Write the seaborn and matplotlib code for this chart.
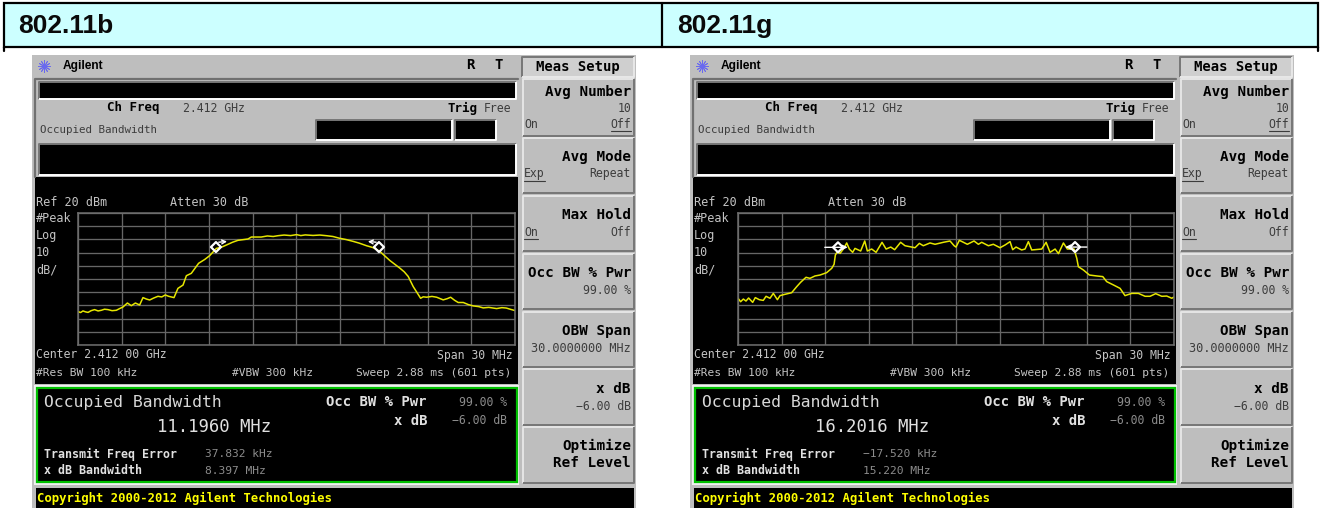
import matplotlib
matplotlib.use("Agg")
import matplotlib.pyplot as plt
import matplotlib.transforms as mtrans
import seaborn as sns
from matplotlib.patches import Rectangle

sns.set_style("white")
plt.rcParams['font.family'] = ['DejaVu Sans Mono', 'DejaVu Sans']

# Traces (MHz from centre, dBm)
freq_b = [-15.0, -14.82, -14.66, -14.48, -14.31, -14.10, -13.86, -13.62, -13.40, -13.18,
          -12.94, -12.66, -12.37, -12.14, -11.91, -11.61, -11.34, -11.06, -10.77, -10.54,
          -10.30, -10.08, -9.80, -9.51, -9.25, -9.01, -8.78, -8.41, -8.14, -7.79,
          -7.56, -7.22, -6.72, -6.30, -5.96, -5.50, -5.15, -4.82, -4.40, -4.02,
          -3.33, -3.10, -2.42, -2.00, -1.60, -1.27, -0.85, -0.40, 0.0, 0.30,
          0.60, 1.14, 1.60, 2.06, 2.50, 2.98, 3.40, 3.89, 4.30, 4.81,
          5.25, 5.72, 6.41, 7.10, 7.40, 7.67, 8.01, 8.52, 8.70, 8.93,
          9.30, 9.62, 10.07, 10.35, 10.58, 10.85, 11.10, 11.45, 11.80, 12.14,
          12.50, 12.82, 13.20, 13.74, 14.10, 14.40, 14.70, 15.0]
power_b = [-54.7, -55.4, -54.2, -54.9, -55.3, -54.0, -53.2, -54.2, -53.7, -52.9,
           -53.2, -54.0, -53.7, -52.4, -51.2, -48.2, -50.2, -48.2, -49.7, -44.1,
           -45.2, -45.9, -44.4, -43.1, -43.6, -42.1, -43.1, -44.1, -37.1, -34.6,
           -27.5, -25.7, -18.1, -15.2, -12.3, -6.8, -5.9, -4.3, -2.2, -0.7,
           0.3, 1.8, 1.8, 2.6, 2.2, 2.8, 3.3, 2.9, 3.6, 2.9,
           3.4, 3.0, 3.3, 2.8, 2.2, 0.8, -0.1, -1.5, -2.8, -4.8,
           -6.2, -9.1, -16.0, -21.8, -24.6, -28.1, -35.7, -44.6, -43.5, -43.8,
           -43.2, -43.8, -45.8, -44.9, -43.8, -46.1, -47.8, -47.8, -49.4, -50.4,
           -50.9, -51.9, -51.5, -52.4, -51.7, -52.0, -53.0, -53.9]

freq_g = [-15.0, -14.82, -14.63, -14.45, -14.27, -13.99, -13.81, -13.53, -13.26, -13.07,
          -12.80, -12.57, -12.29, -12.11, -11.77, -11.31, -10.96, -10.69, -10.32, -10.05,
          -9.70, -9.36, -8.90, -8.55, -8.39, -8.30, -8.16, -7.98, -7.75, -7.52,
          -7.34, -7.11, -6.95, -6.56, -6.28, -6.10, -5.80, -5.50, -5.09, -4.81,
          -4.49, -4.22, -3.81, -3.51, -3.05, -2.82, -2.52, -2.25, -1.79, -1.44,
          -0.87, -0.41, -0.13, 0.0, 0.23, 0.51, 0.78, 1.24, 1.54, 1.77,
          2.23, 2.57, 3.03, 3.38, 3.72, 3.90, 4.13, 4.52, 4.75, 4.98,
          5.21, 5.90, 6.20, 6.47, 6.82, 7.05, 7.39, 7.66, 8.12, 8.31,
          8.42, 8.77, 9.18, 9.68, 10.10, 10.37, 10.83, 11.29, 11.63, 12.09,
          12.55, 13.01, 13.35, 13.74, 14.16, 14.50, 14.85, 15.0]
power_g = [-44.6, -47.2, -45.2, -46.7, -44.4, -47.7, -44.1, -45.7, -46.2, -43.1,
           -44.6, -40.9, -45.7, -42.6, -41.6, -40.4, -35.8, -32.5, -28.7, -29.5,
           -27.7, -27.0, -25.2, -21.9, -18.9, -11.8, -9.3, -10.6, -7.3, -2.7,
           -7.3, -9.8, -6.8, -8.8, -1.2, -8.8, -7.3, -9.8, -2.2, -7.3,
           -5.8, -7.8, -2.2, -4.8, -5.8, -6.3, -3.0, -4.8, -2.7, -3.7,
           -2.2, -1.2, -4.8, -5.8, -0.7, -2.2, -3.7, -1.2, -3.7, -2.2,
           -4.8, -3.7, -6.3, -4.2, -1.7, -7.8, -5.8, -8.0, -7.3, -1.7,
           -8.0, -7.3, -2.2, -9.8, -7.3, -10.8, -2.7, -7.3, -7.3, -14.3,
           -20.7, -23.2, -27.0, -27.7, -28.2, -32.0, -34.5, -37.1, -42.6, -40.9,
           -40.9, -43.1, -43.1, -41.1, -43.1, -42.9, -44.6, -43.6]

marker_freq_b = [-5.53, 5.66]
marker_power_b = [-5.8, -5.8]
marker_freq_g = [-8.12, 8.19]
marker_power_g = [-6.0, -5.8]

x_ticks = [-15, -12, -9, -6, -3, 0, 3, 6, 9, 12, 15]
y_ticks = [-80, -70, -60, -50, -40, -30, -20, -10, 0, 10, 20]

standards = ["802.11b", "802.11g"]
occupied_bw = ["11.1960 MHz", "16.2016 MHz"]
freq_error = ["37.832 kHz", "−17.520 kHz"]
xdb_bw = ["8.397 MHz", "15.220 MHz"]

W, H = 1321, 508
GREY = "#bebebe"
fig = plt.figure(figsize=(W / 100, H / 100), dpi=100, facecolor="white")
bg = fig.add_axes([0, 0, 1, 1], zorder=0)
bg.set_xlim(0, W)
bg.set_ylim(H, 0)
bg.axis("off")


def box(x0, y0, x1, y1, face, edge=None, lw=0):
    bg.add_patch(Rectangle((x0, y0), x1 - x0, y1 - y0, facecolor=face,
                           edgecolor=edge if edge else "none", linewidth=lw))


def bevel(x0, y0, x1, y1, face=GREY, light="#e6e6e6", dark="#777777"):
    box(x0, y0, x1, y1, face)
    bg.plot([x0, x0, x1], [y1, y0, y0], color=light, lw=1.4, solid_capstyle="butt")
    bg.plot([x0, x1, x1], [y1, y1, y0], color=dark, lw=1.4, solid_capstyle="butt")


def label(x, y, s, size=8.3, color="#3c3c3c", weight="normal", ha="left", **kw):
    bg.text(x, y, s, fontsize=size, color=color, fontweight=weight, ha=ha, va="center", **kw)


# Header strip
box(4, 3, 1318, 47, "#ccffff", "black", 1.6)
bg.plot([662, 662], [3, 47], color="black", lw=1.6)
bg.plot([4, 4], [47, 51], color="black", lw=1.6)
bg.plot([1318, 1318], [47, 51], color="black", lw=1.6)
for hx, name in zip([18, 677], standards):
    label(hx, 26, name, size=19, color="#0a0a0a", weight="bold", family="Liberation Sans")


def softkeys(ox):
    rx = ox + 631
    bevel(ox + 522, 57, ox + 634, 77, "#cfcfcf", "#777777", "#e8e8e8")
    label(ox + 578, 67, "Meas Setup", size=10, color="black", weight="bold", ha="center")
    tops = [(79, 136), (138, 193), (196, 251), (254, 309), (312, 367), (369, 425), (427, 483)]
    for y0, y1 in tops:
        bevel(ox + 523, y0, ox + 634, y1)
    big = dict(size=10.3, color="black", weight="bold", ha="right")
    label(rx, 92, "Avg Number", **big)
    label(rx, 108, "10", ha="right")
    label(ox + 524, 124, "On")
    label(rx, 124, "Off", ha="right")
    bg.plot([rx - 20, rx], [130.5, 130.5], color="#3c3c3c", lw=0.8)
    label(rx, 157, "Avg Mode", **big)
    label(ox + 524, 174, "Exp")
    bg.plot([ox + 524, ox + 545], [180.5, 180.5], color="#3c3c3c", lw=0.8)
    label(rx, 174, "Repeat", ha="right")
    label(rx, 215, "Max Hold", **big)
    label(ox + 524, 233, "On")
    bg.plot([ox + 524, ox + 538], [239, 239], color="#3c3c3c", lw=0.8)
    label(rx, 233, "Off", ha="right")
    label(rx, 273, "Occ BW % Pwr", **big)
    label(rx, 290, "99.00 %", ha="right")
    label(rx, 331, "OBW Span", **big)
    label(rx, 348, "30.0000000 MHz", size=8.6, ha="right")
    label(rx, 389, "x dB", **big)
    label(rx, 406, "−6.00 dB", ha="right")
    label(rx, 446, "Optimize", **big)
    label(rx, 463, "Ref Level", **big)


def screen(ox, i):
    box(ox + 32, 55, ox + 636, H, GREY)
    bg.scatter([ox + 44], [66], marker=(12, 2, 0), s=70, color="#6a6aee", linewidths=0.6)
    label(ox + 63, 66, "Agilent", size=8.6, color="black", weight="bold", family="Liberation Sans")
    label(ox + 470, 65, "R", size=10, color="black", weight="bold", ha="center")
    label(ox + 499, 65, "T", size=10, color="black", weight="bold", ha="center")

    # status boxes
    bg.plot([ox + 35, ox + 35, ox + 518], [177, 79, 79], color="#707070", lw=1.6)
    bevel(ox + 39, 82, ox + 516, 99, "black", "#777777", "white")
    label(ox + 107, 108, "Ch Freq", size=9, color="black", weight="bold")
    label(ox + 183, 108, "2.412 GHz")
    label(ox + 448, 108, "Trig", size=9, color="black", weight="bold")
    label(ox + 484, 108, "Free", size=8.3)
    label(ox + 40, 130, "Occupied Bandwidth", size=7.8)
    bevel(ox + 316, 120, ox + 452, 140, "black", "#777777", "white")
    bevel(ox + 455, 120, ox + 496, 140, "black", "#777777", "white")
    bevel(ox + 39, 144, ox + 516, 175, "black", "#777777", "white")

    # graticule block
    box(ox + 35, 177, ox + 518, 384, "black")
    light = "#c4c4c4"
    label(ox + 36, 203, "Ref 20 dBm", size=8.5, color=light)
    label(ox + 170, 203, "Atten 30 dB", size=8.5, color=light)
    for ly, s in zip([218, 235, 252, 270], ["#Peak", "Log", "10", "dB/"]):
        label(ox + 36, ly, s, size=8.5, color=light)
    label(ox + 36, 355, "Center 2.412 00 GHz", color=light)
    label(ox + 513, 355, "Span 30 MHz", color=light, ha="right")
    label(ox + 36, 373, "#Res BW 100 kHz", size=8.1, color=light)
    label(ox + 232, 373, "#VBW 300 kHz", size=8.1, color=light)
    label(ox + 511, 373, "Sweep 2.88 ms (601 pts)", size=8.1, color=light, ha="right")

    # result block
    box(ox + 34, 385, ox + 519, 485, "#f0f0f0")
    box(ox + 36.5, 388, ox + 517, 482, "black", "#00c000", 1.6)
    label(ox + 44, 403, "Occupied Bandwidth", size=11.8, color="#d8d8d8")
    label(ox + 157, 427, occupied_bw[i], size=12.4, color="#e0e0e0")
    label(ox + 427, 402, "Occ BW % Pwr", size=10, color="#e0e0e0", weight="bold", ha="right")
    label(ox + 507, 402, "99.00 %", color="#8c8c8c", ha="right")
    label(ox + 427, 421, "x dB", size=10, color="#e0e0e0", weight="bold", ha="right")
    label(ox + 507, 421, "−6.00 dB", color="#8c8c8c", ha="right")
    label(ox + 44, 454, "Transmit Freq Error", size=8.4, color="#e0e0e0", weight="bold")
    label(ox + 44, 471, "x dB Bandwidth", size=8.4, color="#e0e0e0", weight="bold")
    label(ox + 205, 454, freq_error[i], size=8.1, color="#8c8c8c")
    label(ox + 205, 471, xdb_bw[i], size=8.1, color="#8c8c8c")

    # footer
    box(ox + 36, 488, ox + 634, H, "black")
    label(ox + 37, 498, "Copyright 2000-2012 Agilent Technologies", size=8.8, color="#ffff00", weight="bold")
    softkeys(ox)


def trace(px0, px1, freq, power, mf, mp, tails, heads):
    ax = fig.add_axes([px0 / W, 1 - 345 / H, (px1 - px0) / W, 132 / H], zorder=2)
    ax.set_facecolor("black")
    ax.set_xlim(-15, 15)
    ax.set_ylim(-80, 20)
    ax.set_xticks(x_ticks)
    ax.set_yticks(y_ticks)
    ax.grid(True, color="#666666", lw=0.95)
    ax.set_axisbelow(True)
    sns.lineplot(x=freq, y=power, sort=False, estimator=None, color="#e6e600", lw=1.1, ax=ax)
    ax.set_xticklabels([])
    ax.set_yticklabels([])
    ax.set_xlabel("")
    ax.set_ylabel("")
    ax.tick_params(length=0)
    for s in ax.spines.values():
        s.set_color("#6e6e6e")
        s.set_linewidth(1.1)
    sns.scatterplot(x=mf, y=mp, marker="D", s=26, facecolor="none", edgecolor="white",
                    linewidth=1.6, ax=ax, zorder=5, clip_on=False)
    # delta arrows sit a few points off the marker
    for fx, py, t, h in zip(mf, mp, tails, heads):
        ax.annotate("", xy=(fx, py), xytext=(fx, py), zorder=6,
                    xycoords=mtrans.offset_copy(ax.transData, fig, x=h[0], y=h[1], units="points"),
                    textcoords=mtrans.offset_copy(ax.transData, fig, x=t[0], y=t[1], units="points"),
                    arrowprops=dict(arrowstyle="->", color="white", lw=1, mutation_scale=7,
                                    shrinkA=0, shrinkB=0))
    return ax


screen(0, 0)
screen(658, 1)
trace(78, 515, freq_b, power_b, marker_freq_b, marker_power_b,
      [(2, 3.5), (-2, 3.5)], [(8, 4), (-8, 4)])
trace(738, 1174, freq_g, power_g, marker_freq_g, marker_power_g,
      [(-9.5, 0), (8.5, 0)], [(7, 0), (-7, 0)])

fig.savefig("out.png", dpi=100, facecolor="white")
